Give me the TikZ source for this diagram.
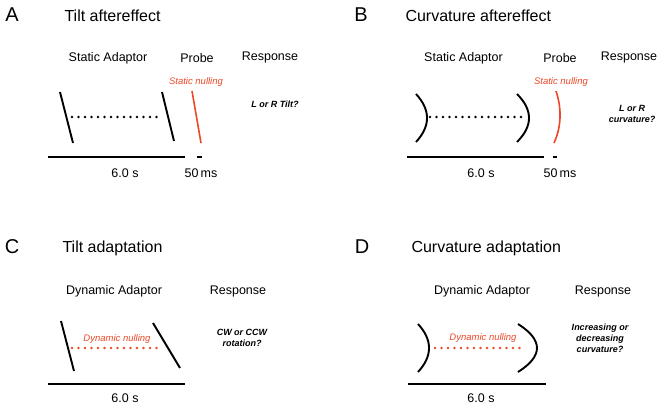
\documentclass[tikz,border=0pt]{standalone}
\usepackage{fontspec}
\setmainfont{Liberation Sans}
\definecolor{nullred}{RGB}{236,72,40}
\begin{document}
\begin{tikzpicture}[x=1pt,y=-1pt,
  letter/.style={font=\fontsize{20}{22}\selectfont},
  title/.style={font=\fontsize{16}{18}\selectfont, anchor=west},
  lab/.style={font=\fontsize{12.5}{14}\selectfont},
  nulltxt/.style={font=\fontsize{9.5}{11}\selectfont\itshape, text=nullred},
  resp/.style={font=\fontsize{9}{11}\selectfont\bfseries\itshape, align=center},
  stim/.style={line width=1.9pt},
  redstim/.style={line width=1.6pt, nullred},
  dotrow/.style={line width=2.8pt, line cap=round, dash pattern=on 0pt off 6.5pt},
  timebar/.style={line width=1.8pt}]
\useasboundingbox (0,0) rectangle (661,406);

% ---------- Panel A ----------
\node[letter] (La) at (12,15) {A};
\node[title] (Ta) at (61,16) {Tilt aftereffect};
\node[lab] (Sa) at (108,58) {Static Adaptor};
\node[lab] (Pa) at (197,58) {Probe};
\node[lab] (Ra) at (270,57) {Response};
\node[nulltxt] (Na) at (196,82) {Static nulling};
\node[resp] (Qa) at (275,104) {L or R Tilt?};
\draw[stim] (60,92) -- (73,143);
\draw[stim] (162,92) -- (174,141);
\draw[dotrow] (72,117) -- (158,117);
\draw[redstim] (192,91) -- (201,143);
\draw[timebar] (48,157) -- (185,157);
\draw[timebar] (197,157) -- (202,157);
\node[lab] (Ta6) at (125,173) {6.0 s};
\node[lab] (Ta50) at (201,173) {50\,ms};

% ---------- Panel B ----------
\node[letter] (Lb) at (361,15) {B};
\node[title] (Tb) at (402,16) {Curvature aftereffect};
\node[lab] (Sb) at (463.5,58) {Static Adaptor};
\node[lab] (Pb) at (560,58) {Probe};
\node[lab] (Rb) at (629,57) {Response};
\node[nulltxt] (Nb) at (561,82) {Static nulling};
\node[resp] (Qb) at (632,114) {L or R\\curvature?};
\draw[stim] (416,94) .. controls (430.7,110) and (430.7,126) .. (416,142);
\draw[stim] (517,94) .. controls (533,110) and (533,126) .. (517,142);
\draw[dotrow] (430,117) -- (523,117);
\draw[redstim] (556,91) .. controls (561.7,108) and (561.7,126) .. (554,143);
\draw[timebar] (407,157) -- (544,157);
\draw[timebar] (553,157) -- (557,157);
\node[lab] (Tb6) at (481,173) {6.0 s};
\node[lab] (Tb50) at (560,173) {50\,ms};

% ---------- Panel C ----------
\node[letter] (Lc) at (12,247) {C};
\node[title] (Tc) at (59,248) {Tilt adaptation};
\node[lab] (Sc) at (114,291) {Dynamic Adaptor};
\node[lab] (Rc) at (238,291) {Response};
\node[nulltxt] (Nc) at (117,339) {Dynamic nulling};
\node[resp] (Qc) at (242,338) {CW or CCW\\rotation?};
\draw[stim] (61,321) -- (74,371);
\draw[stim] (153,323) -- (180,368);
\draw[dotrow, nullred] (72,348) -- (163,348);
\draw[timebar] (48,384) -- (185,384);
\node[lab] (Tc6) at (125,398) {6.0 s};

% ---------- Panel D ----------
\node[letter] (Ld) at (362,247) {D};
\node[title] (Td) at (408,248) {Curvature adaptation};
\node[lab] (Sd) at (482,291) {Dynamic Adaptor};
\node[lab] (Rd) at (603,291) {Response};
\node[nulltxt] (Nd) at (483,338) {Dynamic nulling};
\node[resp] (Qd) at (600,338) {Increasing or\\decreasing\\curvature?};
\draw[stim] (418,324) .. controls (432.7,340) and (432.7,356) .. (418,372);
\draw[stim] (518,324) .. controls (543.3,340) and (543.3,356) .. (518,372);
\draw[dotrow, nullred] (435,348) -- (526,348);
\draw[timebar] (408,384) -- (546,384);
\node[lab] (Td6) at (481,398) {6.0 s};
\end{tikzpicture}
\end{document}
